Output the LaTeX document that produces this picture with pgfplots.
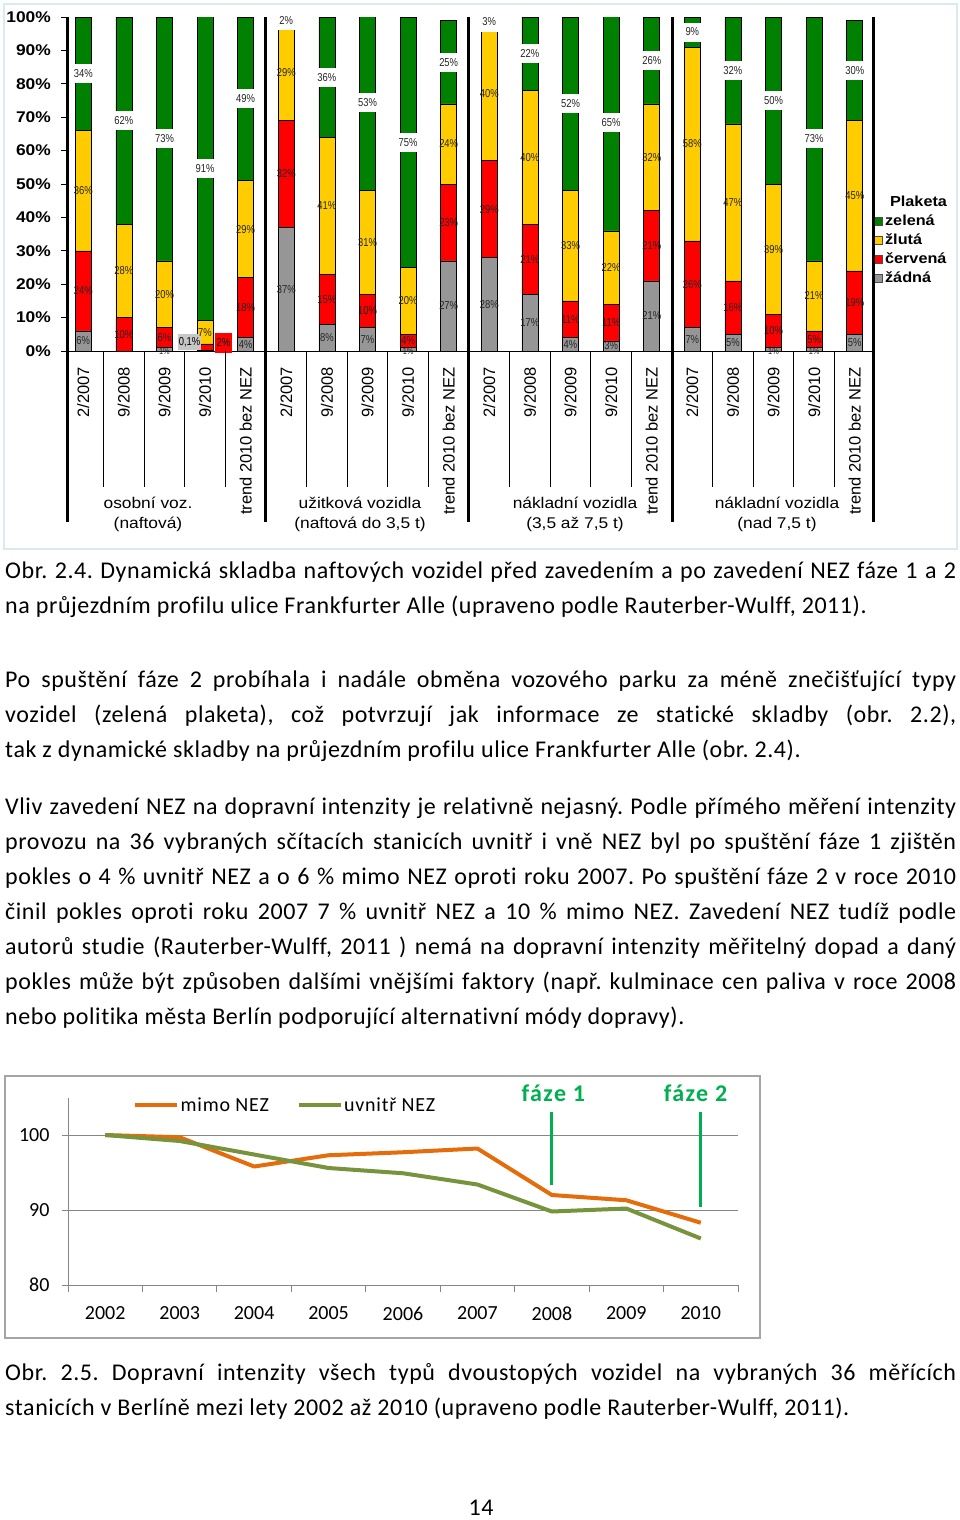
\documentclass[border=0pt]{standalone}
\usepackage{fontspec}
\setmainfont{Carlito}[Ligatures=NoCommon]
\newfontfamily\chartfont{Liberation Sans}[FakeStretch=1.12]
\newfontfamily\rotfont{Liberation Sans}
\newfontfamily\pctfont{Liberation Sans}[FakeStretch=0.82]
\usepackage{pgfplots}
\usepackage{pgfplotstable}
\pgfplotsset{compat=1.18}

\definecolor{cgreen}{RGB}{0,128,0}
\definecolor{cyellow}{RGB}{255,204,0}
\definecolor{cred}{RGB}{255,0,0}
\definecolor{cgray}{RGB}{150,150,150}
\definecolor{lorange}{RGB}{228,108,10}
\definecolor{lgreen}{RGB}{119,147,60}
\definecolor{fgreen}{RGB}{0,176,80}
\definecolor{frameone}{RGB}{218,234,238}
\definecolor{frametwo}{RGB}{165,165,165}
\definecolor{gridgray}{RGB}{134,134,134}

\newcommand\jl[1]{\makebox[951pt][s]{#1}}
\newcommand\bodyfont{\fontsize{24}{28}\selectfont\addfontfeature{LetterSpace=2.4}\frenchspacing}
\newcommand\pctsize{\pctfont\fontsize{11.5}{12}\selectfont}

% share of diesel vehicles by sticker, one row per survey
\pgfplotstableread{
x  gray red yellow green
0  6    24  36  34
1  0    10  28  62
2  1    6   20  73
3  0.1  2   7   91
4  4    18  29  49
5  37   32  29  2
6  8    15  41  36
7  7    10  31  53
8  1    4   20  75
9  27   23  24  25
10 28   29  40  3
11 17   21  40  22
12 4    11  33  52
13 3    11  22  65
14 21   21  32  26
15 7    26  58  9
16 5    16  47  32
17 1    10  39  50
18 1    5   21  73
19 5    19  45  30
}\fleet

% traffic index, 2002 = 100
\pgfplotstableread{
year mimo  uvnitr
0    100.0 100.0
1    99.7  99.2
2    95.8  97.4
3    97.3  95.6
4    97.7  94.9
5    98.2  93.4
6    92.0  89.8
7    91.3  90.2
8    88.3  86.2
}\traffic

\begin{document}
\begin{tikzpicture}
\fill[white] (0pt,0pt) rectangle (960pt,-1520pt);
\path[use as bounding box] (0pt,0pt) rectangle (960pt,-1520pt);
\draw[frameone, line width=1.5pt] (4pt,-4pt) rectangle (957pt,-549pt);

% ---- stacked bars
\begin{axis}[
  at={(67pt,-351pt)}, anchor=south west,
  width=806pt, height=334pt, scale only axis,
  xmin=-0.4, xmax=19.45, ymin=0, ymax=100,
  ybar stacked, bar width=16pt,
  legend image code/.code={\draw[#1,draw=black!70,line width=0.6pt] (0pt,-4pt) rectangle (8pt,4pt);},
  axis lines*=left,
  axis line style={black, line width=0.8pt, -},
  xtick={0,...,19},
  xticklabels={2/2007,9/2008,9/2009,9/2010,trend 2010 bez NEZ,
               2/2007,9/2008,9/2009,9/2010,trend 2010 bez NEZ,
               2/2007,9/2008,9/2009,9/2010,trend 2010 bez NEZ,
               2/2007,9/2008,9/2009,9/2010,trend 2010 bez NEZ},
  major x tick style={draw=none},
  xticklabel style={rotate=90, anchor=east, inner xsep=10pt, inner ysep=0pt,
                    font=\rotfont\fontsize{16.5}{18}\selectfont},
  ytick={0,10,...,100},
  yticklabel={\pgfmathprintnumber{\tick}\%},
  yticklabel style={font=\chartfont\bfseries\fontsize{15.5}{17}\selectfont, inner sep=0pt, xshift=-10pt},
  /pgf/number format/assume math mode=true,
  tick align=outside, major tick length=6pt,
  tick style={black, line width=0.8pt},
  reverse legend,
  legend style={at={(1.001,0.473)}, anchor=north west, draw=none, fill=none, inner sep=0pt,
     font=\chartfont\bfseries\fontsize{14.5}{16}\selectfont,
     nodes={inner ysep=1.5pt, inner xsep=2.5pt, text height=12pt, text depth=4pt}},
  legend cell align=left,
]
\addplot[fill=cgray, draw=black, line width=0.5pt] table[x=x,y=gray]{\fleet};
\addlegendentry{žádná}
\addplot[fill=cred, draw=black, line width=0.5pt] table[x=x,y=red]{\fleet};
\addlegendentry{červená}
\addplot[fill=cyellow, draw=black, line width=0.5pt] table[x=x,y=yellow]{\fleet};
\addlegendentry{žlutá}
\addplot[fill=cgreen, draw=black, line width=0.5pt] table[x=x,y=green]{\fleet};
\addlegendentry{zelená}
\addlegendimage{empty legend}
\addlegendentry{\hspace{5pt}Plaketa}
\end{axis}

% ---- percent labels and separators over the bars
\begin{axis}[
  at={(67pt,-351pt)}, anchor=south west,
  width=806pt, height=334pt, scale only axis,
  xmin=-0.4, xmax=19.45, ymin=0, ymax=100,
  hide axis, clip=false,
  /pgf/number format/assume math mode=true,
  nodes near coords={\pgfmathprintnumber{\pgfplotspointmeta}\%},
  point meta=explicit,
  every node near coord/.append style={anchor=center, inner sep=0pt, font=\pctsize, text=black!85},
]
\addplot[draw=none, restrict expr to domain={\thisrow{gray}}{2:200}]
  table[x=x, y expr=\thisrow{gray}/2, meta=gray]{\fleet};
% thin grey slices: label half hidden at the base line
\addplot[draw=none, restrict expr to domain={\thisrow{gray}}{0.5:1.5},
  every node near coord/.append style={anchor=north, font=\pctfont\fontsize{9}{10}\selectfont}]
  table[x=x, y=gray, meta=gray]{\fleet};
\addplot[draw=none, restrict expr to domain={\thisrow{red}}{2.5:200}]
  table[x=x, y expr=\thisrow{gray}+\thisrow{red}/2, meta=red]{\fleet};
\addplot[draw=none]
  table[x=x, y expr=\thisrow{gray}+\thisrow{red}+\thisrow{yellow}/2, meta=yellow]{\fleet};
\addplot[draw=none, every node near coord/.append style={fill=white, minimum width=22pt, minimum height=19pt}]
  table[x=x, y expr=\thisrow{gray}+\thisrow{red}+\thisrow{yellow}+\thisrow{green}/2, meta=green]{\fleet};
\node[fill=black!22, inner sep=0pt, minimum width=23pt, minimum height=16pt, font=\pctsize] at (axis cs:2.617,2.7) {0,1\%};
\node[fill=cred, inner sep=0pt, minimum width=17pt, minimum height=20pt, font=\pctsize] at (axis cs:3.455,2.4) {2\%};
\pgfplotsinvokeforeach{-0.4,4.5,9.5,14.5,19.45}{\draw[black, line width=3pt] (axis cs:#1,100) -- (axis cs:#1,-51.2);}
\pgfplotsinvokeforeach{0.5,1.5,2.5,3.5,5.5,6.5,7.5,8.5,10.5,11.5,12.5,13.5,15.5,16.5,17.5,18.5}{\draw[black, line width=0.8pt] (axis cs:#1,0) -- (axis cs:#1,-40.7);}
\end{axis}

\begin{scope}[font=\chartfont\fontsize{15.5}{20}\selectfont]
\node[align=center] at (148pt,-514pt) {osobní voz.\\(naftová)};
\node[align=center] at (360pt,-514pt) {užitková vozidla\\(naftová do 3,5 t)};
\node[align=center] at (575pt,-514pt) {nákladní vozidla\\(3,5 až 7,5 t)};
\node[align=center] at (777pt,-514pt) {nákladní vozidla\\(nad 7,5 t)};
\end{scope}

% ---- body text
\begin{scope}[every node/.style={anchor=base west, inner sep=0pt, font=\bodyfont}]
\node at (5pt,-578pt) {\jl{Obr. 2.4. Dynamická skladba naftových vozidel před zavedením a po zavedení NEZ fáze 1 a 2}};
\node at (5pt,-613pt) {na průjezdním profilu ulice Frankfurter Alle (upraveno podle Rauterber-Wulff, 2011).};
\node at (5pt,-687pt) {\jl{Po spuštění fáze 2 probíhala i nadále obměna vozového parku za méně znečišťující typy}};
\node at (5pt,-722pt) {\jl{vozidel (zelená plaketa), což potvrzují jak informace ze statické skladby (obr. 2.2),}};
\node at (5pt,-757pt) {tak z dynamické skladby na průjezdním profilu ulice Frankfurter Alle (obr. 2.4).};
\node at (5pt,-814pt) {\jl{Vliv zavedení NEZ na dopravní intenzity je relativně nejasný. Podle přímého měření intenzity}};
\node at (5pt,-849pt) {\jl{provozu na 36 vybraných sčítacích stanicích uvnitř i vně NEZ byl po spuštění fáze 1 zjištěn}};
\node at (5pt,-884pt) {\jl{pokles o 4 \% uvnitř NEZ a o 6 \% mimo NEZ oproti roku 2007. Po spuštění fáze 2 v roce 2010}};
\node at (5pt,-919pt) {\jl{činil pokles oproti roku 2007 7 \% uvnitř NEZ a 10 \% mimo NEZ. Zavedení NEZ tudíž podle}};
\node at (5pt,-954pt) {\jl{autorů studie (Rauterber-Wulff, 2011 ) nemá na dopravní intenzity měřitelný dopad a daný}};
\node at (5pt,-989pt) {\jl{pokles může být způsoben dalšími vnějšími faktory (např. kulminace cen paliva v roce 2008}};
\node at (5pt,-1024pt) {nebo politika města Berlín podporující alternativní módy dopravy).};
\node at (5pt,-1380pt) {\jl{Obr. 2.5. Dopravní intenzity všech typů dvoustopých vozidel na vybraných 36 měřících}};
\node at (5pt,-1415pt) {stanicích v Berlíně mezi lety 2002 až 2010 (upraveno podle Rauterber-Wulff, 2011).};
\node[anchor=base] at (481pt,-1515pt) {14};
\end{scope}

% ---- traffic line chart
\draw[frametwo, line width=1.2pt] (5pt,-1076pt) rectangle (760pt,-1338pt);
\begin{axis}[
  at={(68pt,-1285pt)}, anchor=south west,
  width=670pt, height=187.5pt, scale only axis,
  xmin=-0.5, xmax=8.5, ymin=80, ymax=105,
  axis lines*=left,
  axis line style={gridgray, line width=0.8pt, -},
  xtick={0,...,8},
  xticklabels={2002,2003,2004,2005,2006,2007,2008,2009,2010},
  minor xtick={-0.5,0.5,...,8.5},
  major x tick style={draw=none},
  ytick={80,90,100},
  ymajorgrids, grid style={gridgray, line width=0.8pt},
  tick align=outside, major tick length=6pt, minor tick length=7pt,
  tick style={gridgray, line width=0.8pt},
  ticklabel style={font=\fontsize{20}{22}\selectfont},
  /pgf/number format/assume math mode=true,
  xticklabel style={yshift=-12pt},
  yticklabel style={xshift=-9pt},
  clip=false,
  legend columns=2,
  legend image code/.code={\draw[#1] (0pt,0pt) -- (42pt,0pt);},
  legend style={at={(0.097,0.96)}, anchor=west, draw=none, fill=none, inner sep=0pt,
    font=\fontsize{20}{22}\selectfont\addfontfeature{LetterSpace=4},
    nodes={inner sep=1.5pt},
    /tikz/every even column/.append style={column sep=26pt}},
]
\addplot[lorange, line width=4pt, line join=round] table[x=year,y=mimo]{\traffic};
\addlegendentry{mimo NEZ}
\addplot[lgreen, line width=4pt, line join=round] table[x=year,y=uvnitr]{\traffic};
\addlegendentry{uvnitř NEZ}
\draw[fgreen, line width=3pt] (axis cs:6,103.1) -- (axis cs:6,93.3);
\draw[fgreen, line width=3pt] (axis cs:8,103.1) -- (axis cs:8,90.4);
\node[text=fgreen, font=\bfseries\fontsize{24}{26}\selectfont\addfontfeature{LetterSpace=6}] at (axis cs:6.02,105.6) {fáze 1};
\node[text=fgreen, font=\bfseries\fontsize{24}{26}\selectfont\addfontfeature{LetterSpace=6}] at (axis cs:7.93,105.6) {fáze 2};
\end{axis}
\end{tikzpicture}
\end{document}
